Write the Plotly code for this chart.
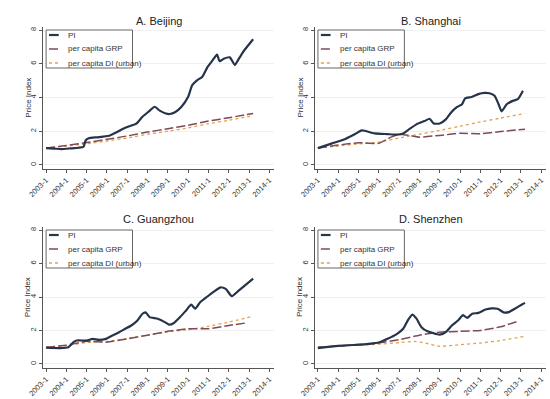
import plotly.graph_objects as go

# ---------------- data ----------------
years = list(range(2003, 2015))
tick_text = [f"{y}-1" for y in years]
y_ticks = [0, 2, 4, 6, 8]
series_names = ["PI", "per capita GRP", "per capita DI (urban)"]
titles = ["A. Beijing", "B. Shanghai", "C. Guangzhou", "D. Shenzhen"]

# Beijing
bj_pi_t = [2003.0, 2003.4, 2003.75, 2004.2, 2004.6, 2004.85, 2004.95, 2005.1, 2005.5, 2005.8,
           2006.15, 2006.5, 2006.8, 2007.0, 2007.45, 2007.75, 2008.05, 2008.35, 2008.6, 2008.9,
           2009.1, 2009.35, 2009.67, 2010.0, 2010.2, 2010.45, 2010.7, 2010.95, 2011.2, 2011.42,
           2011.55, 2011.75, 2012.05, 2012.3, 2012.45, 2012.7, 2012.95, 2013.2]
bj_pi = [1.00, 0.97, 0.94, 0.98, 1.02, 1.08, 1.45, 1.58, 1.64, 1.68,
         1.75, 1.95, 2.15, 2.25, 2.45, 2.86, 3.16, 3.45, 3.22, 3.05,
         3.02, 3.12, 3.45, 4.04, 4.73, 5.03, 5.23, 5.80, 6.20, 6.55,
         6.15, 6.30, 6.38, 5.92, 6.20, 6.69, 7.08, 7.45]
bj_grp_t = [2003.0, 2004.0, 2005.0, 2006.0, 2007.0, 2008.0, 2009.0, 2010.0, 2011.0, 2012.0, 2013.2]
bj_grp = [1.00, 1.15, 1.33, 1.52, 1.72, 1.95, 2.15, 2.35, 2.60, 2.80, 3.05]
bj_di_t = [2003.0, 2004.0, 2005.0, 2006.0, 2007.0, 2008.0, 2009.0, 2010.0, 2011.0, 2012.0, 2013.2]
bj_di = [1.00, 1.12, 1.25, 1.42, 1.60, 1.82, 2.00, 2.20, 2.45, 2.65, 2.92]

# Shanghai
sh_pi_t = [2003.0, 2003.7, 2004.35, 2004.83, 2005.15, 2005.3, 2005.8, 2006.43, 2006.9, 2007.2,
           2007.5, 2007.87, 2008.25, 2008.5, 2008.7, 2009.0, 2009.3, 2009.55, 2009.86, 2010.1,
           2010.25, 2010.57, 2010.9, 2011.2, 2011.45, 2011.7, 2011.9, 2012.05, 2012.3, 2012.6,
           2012.85, 2013.1]
sh_pi = [1.00, 1.28, 1.54, 1.83, 2.05, 2.03, 1.87, 1.83, 1.80, 1.87,
         2.12, 2.42, 2.60, 2.74, 2.46, 2.46, 2.70, 3.10, 3.44, 3.60,
         3.95, 4.03, 4.20, 4.27, 4.25, 4.10, 3.60, 3.18, 3.60, 3.80,
         3.90, 4.40]
sh_grp_t = [2003.0, 2004.0, 2005.0, 2006.0, 2006.6, 2007.0, 2007.5, 2008.0, 2009.0, 2010.0, 2011.0, 2012.0, 2013.2]
sh_grp = [1.00, 1.18, 1.32, 1.28, 1.65, 1.82, 1.75, 1.65, 1.75, 1.88, 1.85, 1.98, 2.12]
sh_di_t = [2003.0, 2004.0, 2005.0, 2006.0, 2007.0, 2008.0, 2009.0, 2010.0, 2011.0, 2012.0, 2013.2]
sh_di = [1.00, 1.12, 1.25, 1.35, 1.60, 1.82, 2.05, 2.30, 2.55, 2.78, 3.05]

# Guangzhou
gz_pi_t = [2003.0, 2003.7, 2004.1, 2004.35, 2004.5, 2005.0, 2005.3, 2005.6, 2005.95, 2006.27,
           2006.6, 2006.9, 2007.2, 2007.5, 2007.75, 2007.9, 2008.1, 2008.5, 2008.85, 2009.05,
           2009.3, 2009.6, 2009.9, 2010.15, 2010.35, 2010.6, 2010.95, 2011.25, 2011.6, 2011.85,
           2012.15, 2012.5, 2012.8, 2013.2]
gz_pi = [0.97, 0.95, 1.00, 1.30, 1.40, 1.40, 1.50, 1.44, 1.50, 1.70,
         1.90, 2.10, 2.30, 2.60, 3.00, 3.08, 2.80, 2.70, 2.50, 2.35,
         2.45, 2.80, 3.20, 3.54, 3.30, 3.70, 4.03, 4.30, 4.58, 4.48,
         4.05, 4.40, 4.70, 5.10]
gz_grp_t = [2003.0, 2004.0, 2005.0, 2006.0, 2007.0, 2008.0, 2009.0, 2010.0, 2011.0, 2012.0, 2012.85]
gz_grp = [1.00, 1.12, 1.35, 1.30, 1.50, 1.72, 1.95, 2.10, 2.10, 2.30, 2.45]
gz_di_t = [2003.0, 2004.0, 2005.0, 2006.0, 2007.0, 2008.0, 2009.0, 2010.0, 2011.0, 2012.0, 2013.2]
gz_di = [1.00, 1.10, 1.28, 1.35, 1.52, 1.72, 1.92, 2.05, 2.25, 2.50, 2.85]

# Shenzhen
sz_pi_t = [2003.0, 2003.5, 2004.0, 2004.5, 2005.0, 2005.5, 2006.0, 2006.43, 2006.9, 2007.2,
           2007.45, 2007.65, 2007.85, 2008.1, 2008.4, 2008.8, 2009.0, 2009.3, 2009.6, 2009.9,
           2010.15, 2010.35, 2010.6, 2010.9, 2011.25, 2011.55, 2011.85, 2012.15, 2012.4, 2012.7,
           2013.05, 2013.2]
sz_pi = [0.95, 1.02, 1.08, 1.12, 1.15, 1.20, 1.28, 1.50, 1.80, 2.10,
         2.65, 2.95, 2.72, 2.20, 1.95, 1.80, 1.75, 1.90, 2.30, 2.60,
         2.92, 2.75, 3.00, 3.05, 3.25, 3.32, 3.30, 3.08, 3.10, 3.30,
         3.55, 3.65]
sz_grp_t = [2003.0, 2004.0, 2005.0, 2006.0, 2007.0, 2008.0, 2009.0, 2010.0, 2011.0, 2012.0, 2012.85]
sz_grp = [1.00, 1.08, 1.15, 1.25, 1.45, 1.72, 1.90, 1.95, 2.00, 2.22, 2.55]
sz_di_t = [2003.0, 2004.0, 2005.0, 2006.0, 2007.0, 2007.75, 2008.3, 2009.0, 2010.0, 2011.0, 2012.0, 2013.2]
sz_di = [1.00, 1.08, 1.12, 1.18, 1.27, 1.35, 1.25, 1.05, 1.15, 1.25, 1.40, 1.65]

cities = [
    (bj_pi_t, bj_pi, bj_grp_t, bj_grp, bj_di_t, bj_di),
    (sh_pi_t, sh_pi, sh_grp_t, sh_grp, sh_di_t, sh_di),
    (gz_pi_t, gz_pi, gz_grp_t, gz_grp, gz_di_t, gz_di),
    (sz_pi_t, sz_pi, sz_grp_t, sz_grp, sz_di_t, sz_di),
]

# ---------------- styling ----------------
W, H = 550, 399
FONT = "Liberation Sans, Arial, sans-serif"
C_PI, C_GRP, C_DI = "#26344a", "#7e4a58", "#e2a24e"
styles = [
    dict(color=C_PI, width=2.2, dash="solid"),
    dict(color=C_GRP, width=1.5, dash="9px,3px"),
    dict(color=C_DI, width=1.3, dash="3px,3px"),
]

def fx(px):
    return px / W

def fy(py):
    return 1 - py / H

# plot-area pixel boxes: (left, right, top, bottom)
panels = [(28, 266, 27, 169), (308, 546, 27, 169), (28, 266, 227, 368), (308, 546, 227, 368)]
title_y = [21, 21, 219, 219]

fig = go.Figure()
layout = dict(
    width=W, height=H, autosize=False,
    margin=dict(l=0, r=0, t=0, b=0),
    paper_bgcolor="white", plot_bgcolor="white",
    showlegend=False,
    font=dict(family=FONT, size=8, color="#333"),
)
annotations = []
shapes = []

for i, (city, box) in enumerate(zip(cities, panels)):
    n = "" if i == 0 else str(i + 1)
    xa, ya = "x" + n, "y" + n
    L, R, T, B = box
    pt, pv, gt, gv, dt, dv = city
    for (tt, vv), nm, st in zip([(dt, dv), (gt, gv), (pt, pv)], series_names[::-1], styles[::-1]):
        fig.add_trace(go.Scatter(
            x=tt, y=vv, mode="lines", name=nm, xaxis=xa, yaxis=ya,
            line=dict(color=st["color"], width=st["width"], dash=st["dash"],
                      shape="spline", smoothing=0.5 if nm == "PI" else 0.3),
            hoverinfo="skip",
        ))
    layout["xaxis" + n] = dict(
        domain=[fx(L), fx(R)], anchor=ya, range=[2002.86, 2014.24],
        tickvals=years, ticktext=tick_text, tickangle=-45,
        tickfont=dict(size=7.5, color="#333", family=FONT),
        showline=True, linecolor="#555", linewidth=1,
        ticks="outside", ticklen=3, tickcolor="#555",
        showgrid=False, zeroline=False,
    )
    layout["yaxis" + n] = dict(
        domain=[fy(B), fy(T)], anchor=xa, range=[-0.24, 8.18],
        tickvals=y_ticks, ticktext=[str(v) for v in y_ticks], tickangle=-90,
        tickfont=dict(size=7.5, color="#333", family=FONT),
        showline=True, linecolor="#555", linewidth=1,
        ticks="outside", ticklen=3, tickcolor="#555",
        showgrid=True, gridcolor="#f0f0f0", gridwidth=1, zeroline=False,
    )
    # panel title
    annotations.append(dict(text=titles[i], xref="paper", yref="paper",
                            x=fx((L + R) / 2), y=fy(title_y[i]), showarrow=False,
                            xanchor="center", yanchor="middle",
                            font=dict(size=11, color="#222", family=FONT)))
    # y-axis title
    annotations.append(dict(text="Price Index", xref="paper", yref="paper",
                            x=fx(L - 16), y=fy((T + B) / 2), showarrow=False, textangle=-90,
                            xanchor="center", yanchor="middle",
                            font=dict(size=8, color="#333", family=FONT)))
    # legend box
    shapes.append(dict(type="rect", xref="paper", yref="paper",
                       x0=fx(L + 3), x1=fx(L + 92), y0=fy(T + 3), y1=fy(T + 41),
                       line=dict(color="#666", width=1), fillcolor="white", layer="above"))
    for k, (nm, st) in enumerate(zip(series_names, styles)):
        ry = T + 8 + 14 * k
        shapes.append(dict(type="line", xref="paper", yref="paper",
                           x0=fx(L + 6), x1=fx(L + 16), y0=fy(ry), y1=fy(ry),
                           line=dict(color=st["color"], width=st["width"], dash=st["dash"]),
                           layer="above"))
        annotations.append(dict(text=nm, xref="paper", yref="paper",
                                x=fx(L + 24), y=fy(ry), showarrow=False,
                                xanchor="left", yanchor="middle",
                                font=dict(size=8, color="#333", family=FONT)))

layout["annotations"] = annotations
layout["shapes"] = shapes
fig.update_layout(**layout)

fig.write_html("out.html", config={"displayModeBar": False},
               post_script="document.body.style.margin='0';")
